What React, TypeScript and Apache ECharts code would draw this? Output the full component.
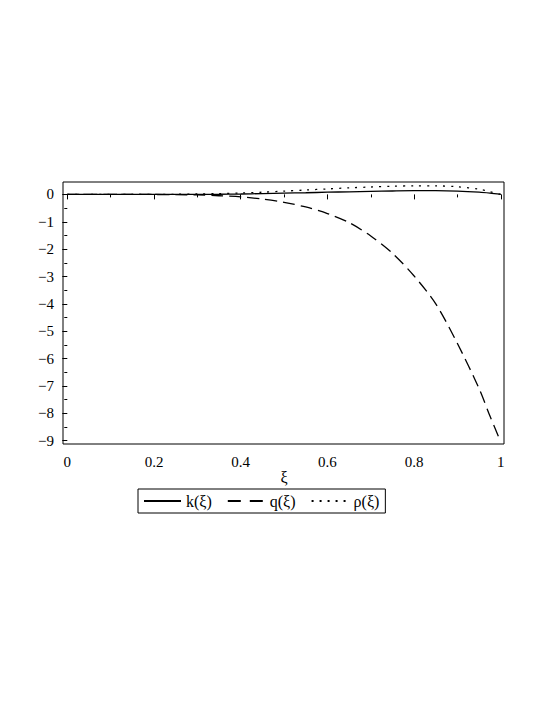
import React, { useEffect, useRef } from "react";
import * as echarts from "echarts";

const xi = [0, 0.05, 0.1, 0.15, 0.2, 0.25, 0.3, 0.35, 0.4, 0.45, 0.5, 0.55, 0.6, 0.65, 0.7, 0.75, 0.8, 0.85, 0.9, 0.95, 0.975, 1];
const kVals = [0, 0, 0, 0, 0, 0, 0.002, 0.006, 0.015, 0.03, 0.045, 0.06, 0.08, 0.095, 0.11, 0.125, 0.135, 0.135, 0.12, 0.08, 0.045, 0];
const qVals = [0, 0, 0, 0, -0.003, -0.01, -0.02, -0.05, -0.09, -0.17, -0.29, -0.46, -0.7, -1.03, -1.52, -2.15, -2.98, -4.0, -5.45, -7.1, -8.1, -9.05];
const rhoVals = [0, 0, 0, 0, 0.002, 0.005, 0.015, 0.03, 0.05, 0.08, 0.12, 0.16, 0.2, 0.24, 0.27, 0.3, 0.31, 0.31, 0.28, 0.19, 0.1, 0];
const seriesNames = ["k(ξ)", "q(ξ)", "ρ(ξ)"];
const xAxisName = "ξ";

const FONT = "'Liberation Serif', 'Times New Roman', serif";

export default function App() {
  const ref = useRef<HTMLDivElement>(null);
  useEffect(() => {
    if (!ref.current) return;
    const chart = echarts.init(ref.current, null, { renderer: "svg" });
    const pairs = (ys: number[]) => xi.map((x, i) => [x, ys[i]]);
    const lineBase = { type: "line", symbol: "none", smooth: 0.3, clip: false };
    chart.setOption({
      animation: false,
      backgroundColor: "#fff",
      textStyle: { fontFamily: FONT },
      grid: { left: 67.3, right: 44.2, top: 194.4, bottom: 264.3 },
      xAxis: {
        type: "value",
        min: 0,
        max: 1,
        interval: 0.2,
        offset: 3.3,
        name: xAxisName,
        nameLocation: "middle",
        nameGap: 25,
        nameTextStyle: { fontFamily: FONT, fontSize: 16, color: "#000" },
        axisLine: { show: false },
        axisTick: { show: true, length: 5, lineStyle: { color: "#000", width: 1 } },
        minorTick: { show: true, splitNumber: 2, length: 3, lineStyle: { color: "#000", width: 1 } },
        splitLine: { show: false },
        axisLabel: { fontFamily: FONT, fontSize: 15, color: "#000", margin: 10 },
      },
      yAxis: {
        type: "value",
        min: -9,
        max: 0,
        interval: 1,
        offset: 4.3,
        axisLine: { show: false },
        axisTick: { show: true, length: 5, lineStyle: { color: "#000", width: 1 } },
        minorTick: { show: true, splitNumber: 2, length: 3, lineStyle: { color: "#000", width: 1 } },
        splitLine: { show: false },
        axisLabel: {
          fontFamily: FONT,
          fontSize: 15,
          color: "#000",
          margin: 9,
          formatter: (v: number) => (v < 0 ? "\u2212" + Math.abs(v) : String(v)),
        },
      },
      legend: {
        left: 138,
        top: 489,
        orient: "horizontal",
        itemWidth: 37,
        itemHeight: 14,
        itemGap: 15,
        padding: [4, 6, 4, 5],
        borderColor: "#000",
        borderWidth: 1,
        itemStyle: { opacity: 0 },
        textStyle: { fontFamily: FONT, fontSize: 16, color: "#000" },
        data: [
          { name: seriesNames[0] },
          { name: seriesNames[1], lineStyle: { type: [13, 9] } },
          { name: seriesNames[2], lineStyle: { type: [2, 6] } },
        ],
      },
      graphic: [
        {
          type: "rect",
          shape: { x: 63, y: 182, width: 441, height: 262 },
          style: { fill: "none", stroke: "#000", lineWidth: 1 },
          silent: true,
        },
      ],
      series: [
        {
          ...lineBase,
          name: seriesNames[0],
          data: pairs(kVals),
          lineStyle: { color: "#000", width: 1.3, type: "solid" },
          itemStyle: { color: "#000" },
        },
        {
          ...lineBase,
          name: seriesNames[1],
          data: pairs(qVals),
          lineStyle: { color: "#000", width: 1.3, type: [12, 6] },
          itemStyle: { color: "#000" },
        },
        {
          ...lineBase,
          name: seriesNames[2],
          data: pairs(rhoVals),
          lineStyle: { color: "#000", width: 1.3, type: [2, 6] },
          itemStyle: { color: "#000" },
        },
      ],
    });
    return () => chart.dispose();
  }, []);
  return (
    <div
      ref={ref}
      style={{ position: "absolute", left: 0, top: 0, width: 545, height: 705 }}
    />
  );
}
